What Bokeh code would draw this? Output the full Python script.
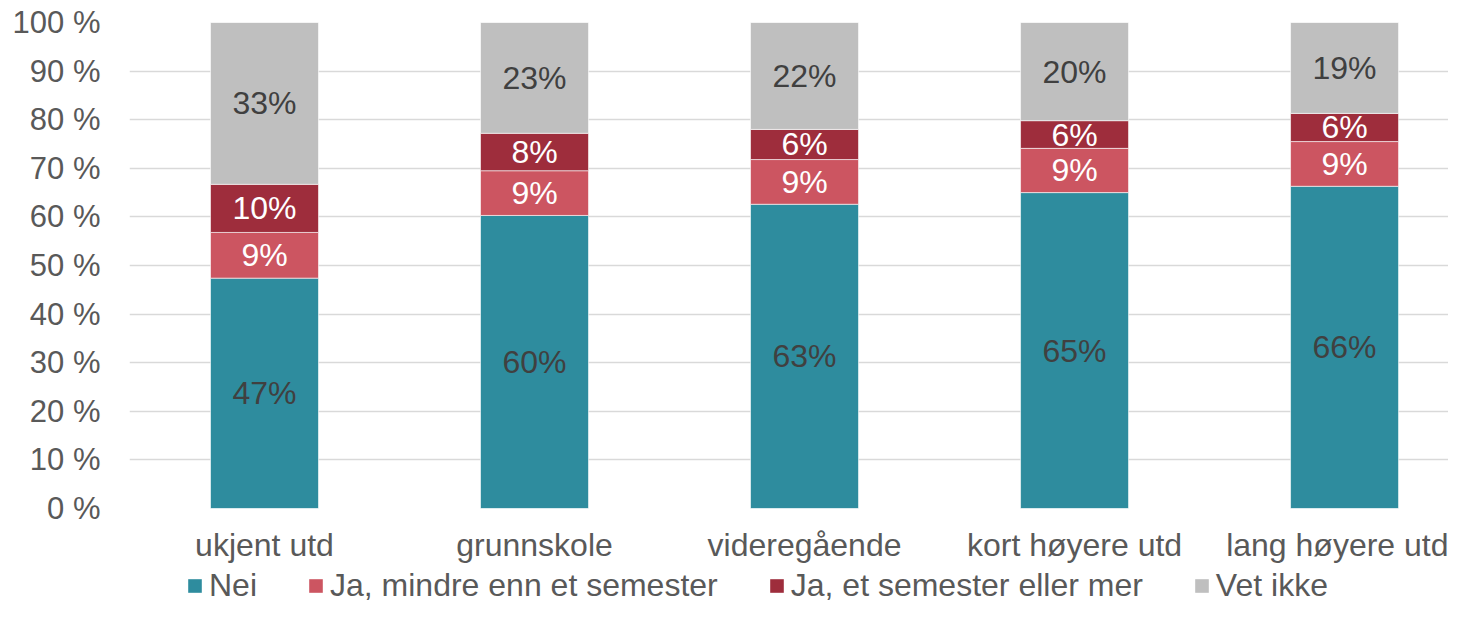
from bokeh.plotting import figure
from bokeh.layouts import column
from bokeh.models import Range1d, FixedTicker, Legend, LegendItem, ColumnDataSource
from bokeh.core.properties import value
from bokeh.embed import file_html
from bokeh.resources import INLINE

categories = ["ukjent utd", "grunnskole", "videregående", "kort høyere utd", "lang høyere utd"]
series_names = ["Nei", "Ja, mindre enn et semester", "Ja, et semester eller mer", "Vet ikke"]
nei = [47.4, 60.3, 62.6, 65.0, 66.3]
ja_mindre = [9.4, 9.2, 9.2, 9.1, 9.2]
ja_semester = [9.9, 7.7, 6.2, 5.7, 5.8]
vet_ikke = [33.3, 22.8, 22.0, 20.2, 18.7]
y_ticks = [0, 10, 20, 30, 40, 50, 60, 70, 80, 90, 100]

colors = ["#2E8C9E", "#CC5561", "#9E2D3C", "#BFBFBF"]
label_colors = ["#404040", "#FFFFFF", "#FFFFFF", "#404040"]
FONT = "Liberation Sans"

p = figure(width=1448, height=568, output_backend="svg", toolbar_location=None,
           x_range=Range1d(-0.5, 4.385), y_range=Range1d(0, 100),
           min_border_left=129, min_border_right=0, min_border_top=22, min_border_bottom=60)
p.outline_line_color = None
p.background_fill_color = "white"
p.border_fill_color = "white"

xs = list(range(len(categories)))
series = [nei, ja_mindre, ja_semester, vet_ikke]
bottoms = [0.0] * len(categories)
lx, ly, lt, lc = [], [], [], []
for vals, col, lcol in zip(series, colors, label_colors):
    tops = [b + v for b, v in zip(bottoms, vals)]
    src = ColumnDataSource(dict(x=xs, bottom=bottoms, top=tops))
    p.vbar(x="x", bottom="bottom", top="top", width=0.4, source=src,
           fill_color=col, line_color="white", line_width=0.6)
    for i, (b, v) in enumerate(zip(bottoms, vals)):
        lx.append(xs[i])
        ly.append(b + v / 2)
        lt.append(f"{round(v)}%")
        lc.append(lcol)
    bottoms = tops

lsrc = ColumnDataSource(dict(x=lx, y=ly, text=lt, color=lc))
p.text(x="x", y="y", text="text", source=lsrc, text_color="color",
       text_align="center", text_baseline="middle",
       text_font=value(FONT), text_font_size="32px")

# axes
p.xaxis.ticker = FixedTicker(ticks=xs)
p.xaxis.major_label_overrides = {i: c for i, c in enumerate(categories)}
p.yaxis.ticker = FixedTicker(ticks=y_ticks)
p.yaxis.major_label_overrides = {t: f"{t} %" for t in y_ticks}
for ax in (p.xaxis[0], p.yaxis[0]):
    ax.axis_line_color = None
    ax.major_tick_line_color = None
    ax.minor_tick_line_color = None
    ax.major_tick_out = 0
    ax.major_tick_in = 0
    ax.major_label_text_font = FONT
    ax.major_label_text_color = "#595959"
p.xaxis.major_label_text_font_size = "32px"
p.yaxis.major_label_text_font_size = "31px"
p.xaxis.major_label_standoff = 18
p.yaxis.major_label_standoff = 29

p.xgrid.grid_line_color = None
p.ygrid.ticker = FixedTicker(ticks=y_ticks)
p.ygrid.grid_line_color = "#D9D9D9"
p.ygrid.grid_line_width = 1.5

# legend strip (swatch renderers have zero height, only their legend glyph shows)
lg = figure(width=1448, height=36, output_backend="svg", toolbar_location=None,
            x_range=Range1d(0, 1), y_range=Range1d(0, 1),
            x_axis_location=None, y_axis_location=None, min_border=0)
lg.outline_line_color = None
lg.xgrid.grid_line_color = None
lg.ygrid.grid_line_color = None
items = []
for name, col in zip(series_names, colors):
    r = lg.vbar(x=[0.5], bottom=[0], top=[0], width=0.001, fill_color=col, line_color=None)
    items.append(LegendItem(label=name, renderers=[r]))
legend = Legend(items=items, orientation="horizontal", location=(57, 0),
                glyph_width=17, glyph_height=17, label_standoff=6, spacing=50,
                padding=0, margin=0, border_line_color=None, background_fill_alpha=0,
                label_text_font=FONT, label_text_font_size="32px", label_text_color="#595959")
lg.add_layout(legend, "center")

layout = column(p, lg, spacing=0)
open("out.html", "w").write(file_html(layout, INLINE))
